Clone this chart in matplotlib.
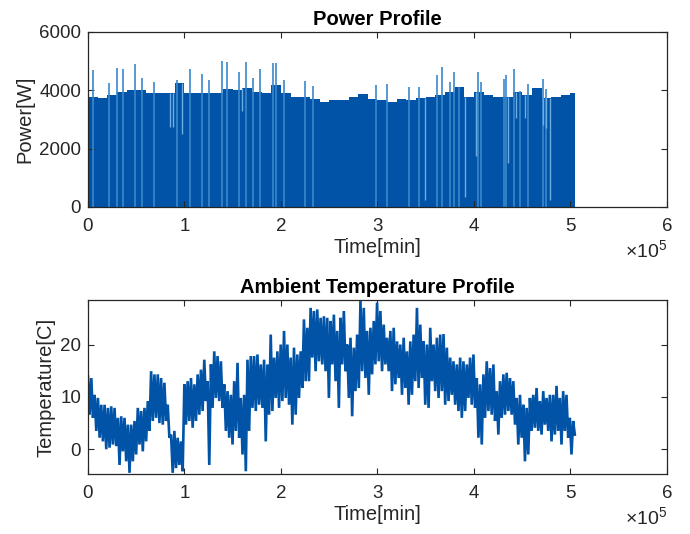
import numpy as np
import matplotlib
matplotlib.use("Agg")
import matplotlib.pyplot as plt

plt.rcParams['font.family'] = ['Liberation Sans', 'DejaVu Sans']
plt.rcParams['mathtext.fontset'] = 'custom'
plt.rcParams['mathtext.rm'] = 'Liberation Sans'

# ---- power profile ----
# base level of the dense signal, one value per 1e4 min from 0 to 5.0e5
power_env = [3780, 3730, 3840, 3950, 4010, 4010, 3920, 3900, 3900, 4240,
             3920, 3900, 3920, 3920, 4030, 4010, 4070, 3950, 3920, 4180,
             3920, 3780, 3780, 3690, 3610, 3670, 3670, 3780, 3860, 3690,
             3670, 3610, 3690, 3670, 3730, 3780, 3840, 3950, 4125, 3780,
             3950, 3840, 3780, 3780, 3950, 3840, 4070, 3730, 3780, 3840,
             3900]
power_end = 5.048e5

# short peaks above the base level [1e5 min], [W]
spike_t = [0.053, 0.216, 0.30, 0.36, 0.49, 0.56, 0.68, 0.92, 1.06, 1.18,
           1.25, 1.39, 1.44, 1.56, 1.64, 1.71, 1.78, 1.92, 1.95, 2.03,
           2.25, 2.33, 2.98, 3.10, 3.33, 3.43, 3.62, 3.67, 3.75, 3.79,
           3.85, 4.04, 4.07, 4.31, 4.33, 4.42, 4.48, 4.56, 4.72, 4.75]
spike_p = [4690, 4240, 4750, 4720, 4890, 4420, 4300, 4350, 4720, 4570,
           4370, 5020, 4980, 4640, 4980, 4420, 4720, 4920, 4940, 4370,
           4330, 4140, 4180, 4200, 4110, 4130, 4525, 4790, 4280, 4640,
           4110, 4640, 4280, 4390, 4525, 4730, 3990, 4200, 4390, 4050]

# short drops below the base level
dip_t = [0.855, 0.885, 0.97, 1.60, 3.49, 3.91, 4.016, 4.35, 4.44, 4.53,
         4.72, 4.75, 4.79]
dip_p = [2750, 2750, 2500, 3300, 240, 350, 1750, 1500, 3050, 3050,
         2810, 2700, 240]

# ---- ambient temperature (upper / lower swing, every ~3440 min) ----
temp_hi = [13.9, 13.6, 10.4, 9.8, 8.5, 8.5, 7.9, 8.2, 7.9, 6.0,
           6.3, 6.0, 4.7, 4.7, 5.4, 7.9, 7.3, 7.9, 9.2, 14.9,
           14.3, 14.3, 13.6, 12.7, 8.5, 2.8, 3.5, 2.2, 1.5, 12.4,
           13.0, 13.6, 12.4, 14.3, 15.2, 17.1,
           13.0, 16.2, 18.7, 17.8, 16.8, 12.4, 11.1, 10.4, 13.0, 16.5,
           9.8, 10.4, 17.1, 17.8, 17.8, 18.1, 16.2, 17.1, 16.2, 21.9,
           17.5, 18.7, 20.0, 22.6, 20.0, 17.5, 19.4, 18.1, 18.7, 24.8,
           23.2, 27.0, 26.4, 26.7, 25.1, 25.4,
           25.1, 24.5, 25.7, 22.6, 25.1, 26.4, 20.0, 21.3, 19.4, 21.9,
           28.3, 27.0, 22.6, 23.2, 24.5, 28.0, 26.4, 23.8, 21.3, 22.6,
           23.2, 20.6, 20.0, 21.3, 18.7, 20.6, 21.9, 27.0, 23.8, 20.6,
           20.0, 23.2, 20.0, 21.3, 21.9, 22.0,
           19.4, 17.5, 16.8, 16.2, 17.5, 16.8, 16.2, 17.5, 18.1, 13.6,
           12.4, 14.3, 16.8, 15.5, 16.2, 11.1, 13.0, 14.3, 14.6, 13.6,
           13.0, 9.8, 10.4, 8.5, 7.9, 9.8, 10.4, 11.7, 9.2, 11.1,
           9.8, 10.4, 10.4, 12.1, 9.8, 11.1, 10.4, 6.0, 5.4]
temp_lo = [6.6, 6.0, 3.5, 2.2, 1.5, 0.0, 0.3, 0.9, 0.6, -3.0,
           -0.4, -2.3, -4.5, -2.3, -1.0, 0.9, -0.4, 1.5, 3.5, 5.4,
           6.0, 5.0, 4.7, 5.4, 2.2, -4.5, -3.6, -3.0, -4.2, 4.7,
           5.4, 4.1, 5.4, 6.6, 7.3, 9.2,
           -3.0, 7.9, 9.8, 9.2, 7.9, 3.5, 2.2, 0.9, 3.5, 2.2,
           -1.0, -4.2, 3.5, 7.9, 7.3, 8.5, 7.9, 1.5, 6.6, 7.3,
           9.8, 7.9, 9.2, 9.8, 8.5, 4.7, 6.6, 9.8, 11.7, 13.0,
           13.0, 17.5, 14.9, 16.8, 16.2, 14.9,
           9.8, 16.2, 13.0, 7.9, 16.2, 14.9, 9.8, 6.3, 11.1, 11.7,
           14.9, 13.6, 10.4, 14.3, 16.2, 16.8, 14.9, 16.2, 14.9, 11.1,
           12.4, 13.6, 10.4, 11.7, 8.5, 10.4, 13.0, 11.7, 13.6, 8.5,
           7.9, 13.0, 11.1, 9.8, 11.1, 8.5,
           9.2, 10.4, 8.5, 7.3, 6.0, 7.3, 9.8, 8.5, 7.9, 2.2,
           0.9, 6.0, 7.3, 6.6, 5.4, 2.8, 6.0, 6.6, 7.3, 6.6,
           4.7, 0.9, 2.2, -2.3, -1.0, 3.5, 4.1, 3.5, 2.8, 4.7,
           3.5, 1.5, 2.8, 3.5, 0.9, 3.5, 2.2, -1.0, 2.8]
temp_end = 5.045e5

dark = '#0053A6'
light = '#3A88CC'
edge = '#262626'

env_t = np.append(np.arange(len(power_env)) * 1e4, power_end)
env_p = np.append(power_env, power_env[-1])
spike_t = np.array(spike_t) * 1e5
dip_t = np.array(dip_t) * 1e5
dip_top = env_p[np.searchsorted(env_t, dip_t, side='right') - 1]

temp = np.column_stack([temp_hi, temp_lo]).ravel()
temp_time = np.linspace(0, temp_end, len(temp))

fig = plt.figure(figsize=(6.9, 5.34), dpi=100)
ax1 = fig.add_axes([0.1275, 0.6124, 0.8391, 0.3277])
ax2 = fig.add_axes([0.1275, 0.1124, 0.8391, 0.3258])

ax1.vlines(spike_t, 0, spike_p, colors=light, lw=1.2)
ax1.fill_between(env_t, 0, env_p, step='post', color=dark, lw=0)
ax1.vlines(dip_t, dip_p, dip_top, colors='#6FAEE2', lw=1.0)
ax1.set_xlim(0, 6e5)
ax1.set_ylim(0, 6000)
ax1.set_yticks([0, 2000, 4000, 6000])
ax1.set_title('Power Profile', fontsize=14.5, fontweight='bold', pad=5)
ax1.set_ylabel('Power[W]', fontsize=14.5, labelpad=3, color=edge)
ax1.set_xlabel('Time[min]', fontsize=14.5, labelpad=2, color=edge)

ax2.plot(temp_time, temp, color=dark, lw=1.9, solid_joinstyle='miter')
ax2.set_xlim(0, 6e5)
ax2.set_ylim(-4.72, 28.5)
ax2.set_yticks([0, 10, 20])
ax2.set_title('Ambient Temperature Profile', fontsize=14.5, fontweight='bold', pad=5)
ax2.set_ylabel('Temperature[C]', fontsize=14.5, labelpad=3, color=edge)
ax2.set_xlabel('Time[min]', fontsize=14.5, labelpad=2, color=edge)

for ax in (ax1, ax2):
    ax.set_xticks(np.arange(0, 7) * 1e5)
    ax.ticklabel_format(axis='x', style='sci', scilimits=(5, 5), useMathText=True)
    ax.xaxis.get_offset_text().set_fontsize(14)
    ax.xaxis.get_offset_text().set_color(edge)
    ax.tick_params(direction='in', top=True, right=True, length=4, width=0.8,
                   labelsize=13.5, colors=edge)
    ax.tick_params(axis='x', pad=8)
    ax.tick_params(axis='y', pad=5)
    for s in ax.spines.values():
        s.set_color(edge)
        s.set_linewidth(0.9)

fig.savefig('out.png', dpi=100)
